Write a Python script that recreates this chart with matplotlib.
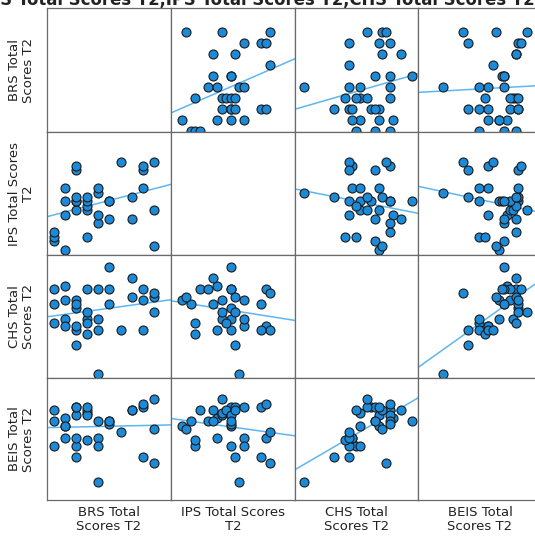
import numpy as np
import matplotlib
matplotlib.use("Agg")
import matplotlib.pyplot as plt

# scores (one entry per respondent)
brs = [0, 0, 0, 1, 1, 1, 1, 2, 2, 2, 2, 2, 2, 3, 3, 3, 3, 3,
       4, 4, 4, 4, 5, 5, 5, 6, 7, 7, 8, 8, 8, 9, 9, 9]
ips = [2, 3, 4, 0, 8, 11, 14, 9, 11, 11, 12, 18, 19, 3, 9, 10, 11, 12,
       6, 8, 13, 14, 7, 11, 11, 20, 7, 12, 14, 18, 19, 1, 9, 20]
chs = [19, 14, 23, 20, 24, 15, 13, 20, 12, 18, 8, 19, 13, 11, 15, 14, 23, 17,
       23, 12, 0, 15, 19, 23, 29, 12, 26, 21, 20, 12, 23, 21, 17, 22]
beis = [22, 13, 26, 20, 23, 20, 16, 24, 13, 27, 9, 27, 16, 15, 25, 26, 24, 27,
        22, 16, 0, 13, 22, 21, 22, 18, 26, 26, 27, 9, 28, 19, 30, 7]

variables = [brs, ips, chs, beis]
labels = ["BRS Total\nScores T2", "IPS Total Scores\nT2",
          "CHS Total\nScores T2", "BEIS Total\nScores T2"]
title = "BRS Total Scores T2,IPS Total Scores T2,CHS Total Scores T2,BEIS Total Scores T2"

# axis ranges of each variable when used as x and as y
x_lims = [(-0.6, 10.53), (-2.49, 25.6), (-2.42, 30.6), (-9.1, 35.5)]
y_lims = [(-0.09, 11.15), (-1.13, 26.7), (-1.0, 32.3), (-6.5, 37.45)]

W, H = 535, 544
col_edges = [47, 171, 295, 418, 542]
row_edges = [8, 132, 255, 378, 500]

dot_color = "#1b8ad9"
line_color = "#5db6f2"
frame_color = "#6a6a6a"

fig = plt.figure(figsize=(W / 100, H / 100), dpi=100)

for i in range(4):
    for j in range(4):
        x0, x1 = col_edges[j], col_edges[j + 1]
        y0, y1 = row_edges[i], row_edges[i + 1]
        ax = fig.add_axes([x0 / W, 1 - y1 / H, (x1 - x0) / W, (y1 - y0) / H])
        ax.set_xlim(x_lims[j])
        ax.set_ylim(y_lims[i])
        ax.set_xticks([])
        ax.set_yticks([])
        for s in ax.spines.values():
            s.set_color(frame_color)
            s.set_linewidth(0.9)
        if i == j:
            continue
        xv = np.array(variables[j], dtype=float)
        yv = np.array(variables[i], dtype=float)
        slope, icpt = np.polyfit(xv, yv, 1)
        xs = np.array(x_lims[j])
        ax.plot(xs, slope * xs + icpt, color=line_color, lw=1.1, zorder=2)
        ax.scatter(xv, yv, s=42, color=dot_color, edgecolor="#1a1a1a",
                   linewidth=0.8, zorder=3)

# variable names down the left and along the bottom
for k in range(4):
    cy = (row_edges[k] + row_edges[k + 1]) / 2
    fig.text(22 / W, 1 - cy / H, labels[k], rotation=90, ha="center",
             va="center", fontsize=9.5, linespacing=1.1, color="#222222")
    cx = (col_edges[k] + col_edges[k + 1]) / 2
    fig.text(cx / W, 1 - 520 / H, labels[k], ha="center", va="center",
             fontsize=9.5, linespacing=1.1, color="#222222")

# the chart title sits mostly above the top edge of the picture
fig.text(-25 / W, 1 - 5 / H, title, ha="left", va="baseline",
         fontsize=11.9, fontweight="bold", color="#222222")

fig.savefig("out.png", dpi=100)
